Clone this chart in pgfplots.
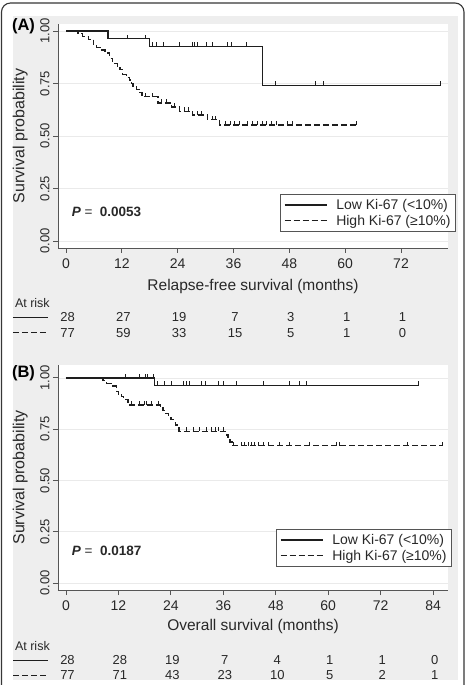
\documentclass[border=0pt]{standalone}
\usepackage{pgfplots}
\pgfplotsset{compat=1.18}
\usepackage{fontspec}
\setmainfont{Liberation Sans}
\definecolor{bg}{RGB}{238,238,238}
\definecolor{framec}{RGB}{55,55,55}
\definecolor{axgray}{RGB}{85,85,85}
\definecolor{gridc}{RGB}{234,234,234}
\definecolor{curve}{RGB}{30,30,30}
\definecolor{txt}{RGB}{40,40,40}
\pgfdeclareplotmark{cens}{\pgfpathmoveto{\pgfqpoint{0pt}{0pt}}\pgfpathlineto{\pgfqpoint{0pt}{4pt}}\pgfusepathqstroke}
\tikzset{risk/.style={text=txt, font=\fontsize{13}{15}\selectfont, inner sep=0pt, xshift=1.5pt}}
\pgfplotsset{
  kmaxis/.style={
    scale only axis, width=390pt, clip=false,
    axis x line*=bottom, axis y line*=left,
    axis line style={draw=axgray, line width=0.9pt, -},
    tick align=outside, major tick length=5pt,
    tick style={draw=axgray, line width=0.9pt},
    ytick={0,0.25,0.5,0.75,1},
    yticklabels={0.00,0.25,0.50,0.75,1.00},
    ymajorgrids, grid style={gridc, line width=0.8pt},
    axis background/.style={fill=white},
    /pgf/number format/assume math mode=true,
    xticklabel style={font=\fontsize{14}{16}\selectfont, text=txt, yshift=-2pt},
    yticklabel style={font=\fontsize{13}{15}\selectfont, text=txt, rotate=90, anchor=south},
    ylabel={Survival probability},
    ylabel style={font=\fontsize{16}{18}\selectfont, text=txt, at={(axis description cs:-0.097,0.5)}, anchor=center, rotate=0},
    xlabel style={font=\fontsize{15.5}{18}\selectfont, text=txt, anchor=center},
    legend style={draw=axgray, line width=0.9pt, fill=white, font=\fontsize{14}{16}\selectfont, text=txt,
      inner xsep=3pt, inner ysep=3pt, nodes={inner sep=2pt}, cells={anchor=west}},
    legend image code/.code={\draw[#1] (0pt,0pt) -- (42pt,0pt); \path (49pt,0pt);},
  },
  lowc/.style={curve, line width=1.35pt, const plot},
  highc/.style={curve, line width=1.35pt, const plot, dash pattern=on 6pt off 3pt},
  censm/.style={only marks, mark=cens, mark options={solid, curve, line width=0.8pt}, forget plot},
}
\begin{document}
\begin{tikzpicture}
\useasboundingbox (0pt,0pt) rectangle (469pt,685pt);
\clip (0pt,0pt) rectangle (469pt,685pt);
\fill[white] (0pt,0pt) rectangle (469pt,685pt);
\fill[bg] (13pt,5pt) rectangle (458pt,669pt);
\draw[framec, line width=1.1pt, rounded corners=9pt] (1.5pt,-20pt) rectangle (464pt,682pt);

% ---------- Panel A ----------
\begin{axis}[kmaxis, at={(58pt,437pt)}, anchor=south west, height=224pt,
  xmin=-1.72, xmax=82.1, ymin=-0.0333, ymax=1.0333,
  xtick={0,12,24,36,48,60,72},
  xlabel={Relapse-free survival (months)},
  xlabel style={at={(axis description cs:0.5,-0.170)}},
  legend style={at={(1.0205,0.0714)}, anchor=south east}]
\addplot[lowc] coordinates {(0,1) (9,0.964) (18,0.927) (42.2,0.741) (80.5,0.741)};
\addlegendentry{Low Ki-67 (<10\%)}
\addplot[highc] coordinates {(0,1) (2.6,0.987) (3.5,0.974) (4.8,0.961) (5.9,0.935) (6.6,0.922) (7.7,0.909) (8.4,0.896) (9.4,0.870) (10,0.844) (11,0.831) (11.6,0.818) (12.2,0.792) (13,0.779) (13.7,0.766) (14.1,0.75) (14.4,0.737) (15.2,0.722) (15.9,0.708) (16.3,0.688) (19.8,0.657) (22.7,0.638) (24.4,0.618) (27.2,0.600) (30.4,0.577) (33,0.552) (62.5,0.552)};
\addlegendentry{High Ki-67 (≥10\%)}
\addplot[censm] coordinates {(13.3,0.964) (17.1,0.964) (18.6,0.927) (19.4,0.927) (20.9,0.927) (24.4,0.927) (27.2,0.927) (27.7,0.927) (28.3,0.927) (30.1,0.927) (31.5,0.927) (34.7,0.927) (35.5,0.927) (38.8,0.927) (45,0.741) (53.6,0.741) (55.3,0.741) (80.5,0.741)};
\addplot[censm] coordinates {(17,0.688) (18.5,0.688) (20.5,0.657) (21.5,0.657) (23.3,0.638) (25.5,0.618) (26.3,0.618) (28.3,0.6) (29.2,0.6) (31.5,0.577) (32.2,0.577) (34.2,0.552) (35.3,0.552) (36.2,0.552) (37.3,0.552) (39,0.552) (40.1,0.552) (41.1,0.552) (42.2,0.552) (43,0.552) (44.1,0.552) (45.2,0.552) (47.6,0.552) (48.6,0.552) (62.5,0.552)};
% P value
\node[anchor=west, text=txt, font=\fontsize{13.5}{16}\selectfont, inner sep=0pt] at (axis cs:1.2,0.138) {\bfseries\itshape P\mdseries\upshape\ = \ \bfseries 0.0053};
% at risk table
\node[anchor=west, text=txt, font=\fontsize{12.5}{15}\selectfont, inner sep=0pt] at (axis cs:-11.0,-0.295) {At risk};
\draw[curve, line width=1pt] (axis cs:-11.4,-0.362) -- (axis cs:-3.9,-0.362);
\draw[curve, line width=1pt, dash pattern=on 6pt off 3pt] (axis cs:-11.4,-0.438) -- (axis cs:-3.9,-0.438);
\node[risk] at (axis cs:0,-0.362) {28};  \node[risk] at (axis cs:0,-0.438) {77};
\node[risk] at (axis cs:12,-0.362) {27}; \node[risk] at (axis cs:12,-0.438) {59};
\node[risk] at (axis cs:24,-0.362) {19}; \node[risk] at (axis cs:24,-0.438) {33};
\node[risk] at (axis cs:36,-0.362) {7};  \node[risk] at (axis cs:36,-0.438) {15};
\node[risk] at (axis cs:48,-0.362) {3};  \node[risk] at (axis cs:48,-0.438) {5};
\node[risk] at (axis cs:60,-0.362) {1};  \node[risk] at (axis cs:60,-0.438) {1};
\node[risk] at (axis cs:72,-0.362) {1};  \node[risk] at (axis cs:72,-0.438) {0};
\end{axis}
\node[font=\fontsize{16.5}{18}\selectfont\bfseries, text=black, inner sep=0pt] at (23.5pt,659pt) {(A)};

% ---------- Panel B ----------
\begin{axis}[kmaxis, at={(58pt,95pt)}, anchor=south west, height=225pt,
  xmin=-1.83, xmax=87.4, ymin=-0.0341, ymax=1.063,
  xtick={0,12,24,36,48,60,72,84},
  xlabel={Overall survival (months)},
  xlabel style={at={(axis description cs:0.5,-0.160)}},
  legend style={at={(1.0103,0.102)}, anchor=south east}]
\addplot[lowc] coordinates {(0,1) (20.3,0.964) (80.7,0.964)};
\addlegendentry{Low Ki-67 (<10\%)}
\addplot[highc] coordinates {(0,1) (8.5,0.987) (9.3,0.974) (10.5,0.961) (11.5,0.935) (12,0.922) (12.7,0.908) (13.2,0.895) (14.2,0.882) (14.6,0.868) (21.6,0.854) (22.2,0.84) (22.8,0.826) (23.5,0.812) (24,0.798) (24.6,0.784) (25,0.77) (25.4,0.755) (25.7,0.74) (36.7,0.722) (37.1,0.705) (37.5,0.688) (38,0.67) (86.1,0.67)};
\addlegendentry{High Ki-67 (≥10\%)}
\addplot[censm] coordinates {(13.5,1) (16.9,1) (18.1,1) (18.6,1) (20,1) (20.9,0.964) (22.6,0.964) (24.2,0.964) (26.8,0.964) (27.5,0.964) (28.2,0.964) (31,0.964) (31.8,0.964) (34.8,0.964) (36,0.964) (39,0.964) (45.1,0.964) (51.2,0.964) (53.5,0.964) (55,0.964) (80.7,0.964)};
\addplot[censm] coordinates {(15,0.868) (16.9,0.868) (18,0.868) (18.5,0.868) (19.6,0.868) (21.1,0.868) (26,0.74) (27.6,0.74) (29.1,0.74) (30.6,0.74) (32.2,0.74) (33.3,0.74) (34.1,0.74) (34.8,0.74) (36,0.74) (38.2,0.67) (40.2,0.67) (40.9,0.67) (41.7,0.67) (42.4,0.67) (43.2,0.67) (44,0.67) (45.1,0.67) (46.2,0.67) (48.9,0.67) (51.2,0.67) (55.8,0.67) (61.9,0.67) (62.6,0.67) (78.2,0.67) (86.1,0.67)};
\node[anchor=west, text=txt, font=\fontsize{13.5}{16}\selectfont, inner sep=0pt] at (axis cs:1.3,0.156) {\bfseries\itshape P\mdseries\upshape\ = \ \bfseries 0.0187};
\node[anchor=west, text=txt, font=\fontsize{12.5}{15}\selectfont, inner sep=0pt] at (axis cs:-11.7,-0.307) {At risk};
\draw[curve, line width=1pt] (axis cs:-12.1,-0.376) -- (axis cs:-4.1,-0.376);
\draw[curve, line width=1pt, dash pattern=on 6pt off 3pt] (axis cs:-12.1,-0.449) -- (axis cs:-4.1,-0.449);
\node[risk] at (axis cs:0,-0.376) {28};  \node[risk] at (axis cs:0,-0.449) {77};
\node[risk] at (axis cs:12,-0.376) {28}; \node[risk] at (axis cs:12,-0.449) {71};
\node[risk] at (axis cs:24,-0.376) {19}; \node[risk] at (axis cs:24,-0.449) {43};
\node[risk] at (axis cs:36,-0.376) {7};  \node[risk] at (axis cs:36,-0.449) {23};
\node[risk] at (axis cs:48,-0.376) {4};  \node[risk] at (axis cs:48,-0.449) {10};
\node[risk] at (axis cs:60,-0.376) {1};  \node[risk] at (axis cs:60,-0.449) {5};
\node[risk] at (axis cs:72,-0.376) {1};  \node[risk] at (axis cs:72,-0.449) {2};
\node[risk] at (axis cs:84,-0.376) {0};  \node[risk] at (axis cs:84,-0.449) {1};
\end{axis}
\node[font=\fontsize{16.5}{18}\selectfont\bfseries, text=black, inner sep=0pt] at (23.5pt,312pt) {(B)};
\end{tikzpicture}
\end{document}
